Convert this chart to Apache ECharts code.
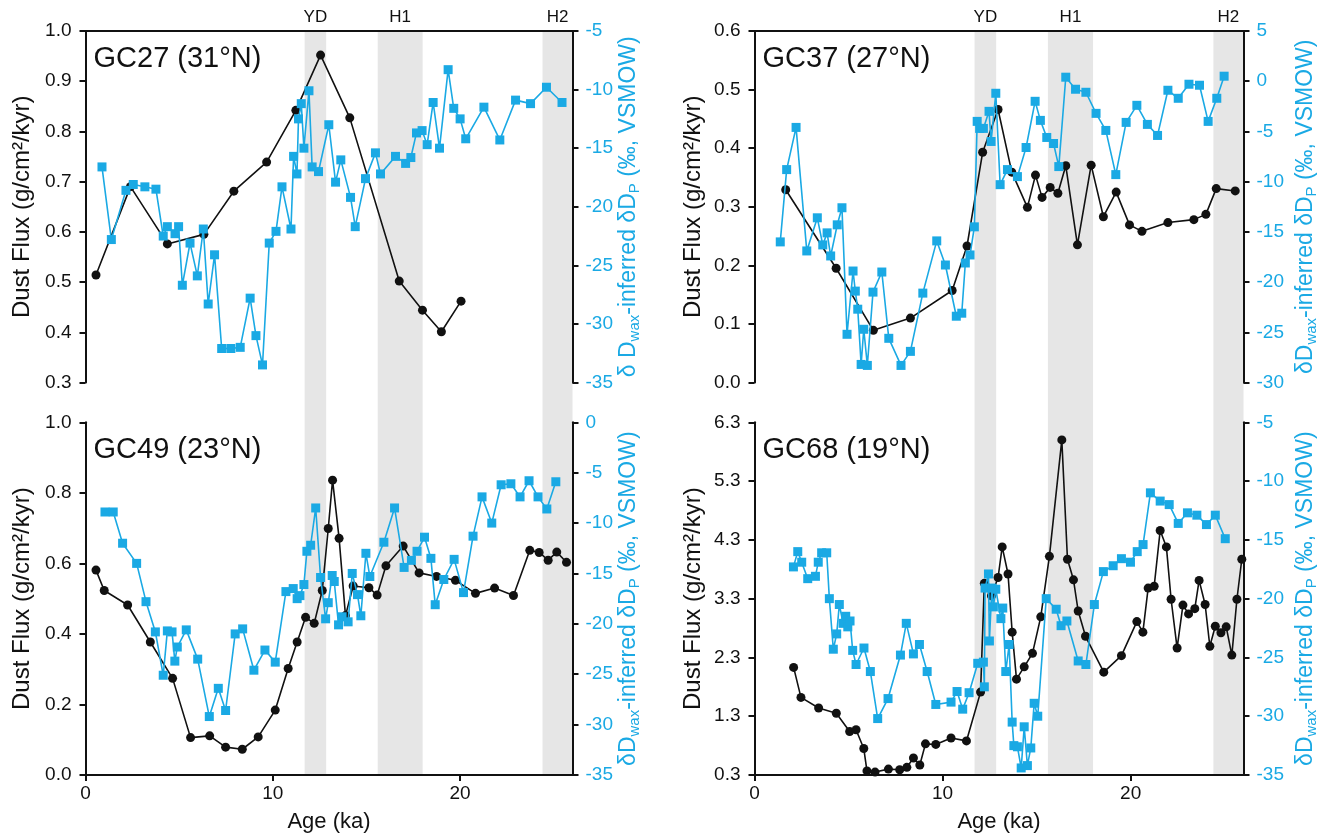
<!DOCTYPE html>
<html>
<head>
<meta charset="utf-8">
<script src="https://cdn.jsdelivr.net/npm/echarts@6/dist/echarts.min.js"></script>
<style>
  html, body { margin: 0; padding: 0; background: #fff; }
  #chart { width: 1336px; height: 838px; }
</style>
</head>
<body>
<div id="chart"></div>
<script>
// Age axis ticks and climate event intervals (ka)
const ageTicks = [0, 10, 20];
const eventNames = ['YD', 'H1', 'H2'];
const eventStart = [11.7, 15.6, 24.4];
const eventEnd = [12.85, 18.0, 26];

// GC27 (31°N)
const gc27FluxAge = [0.56, 2.4, 4.37, 6.32, 7.92, 9.67, 11.23, 12.55, 14.11, 16.75, 17.99, 19.0, 20.05];
const gc27Flux = [0.514, 0.69, 0.576, 0.595, 0.681, 0.739, 0.842, 0.952, 0.827, 0.502, 0.444, 0.401, 0.462];
const gc27DdAge = [0.88, 1.38, 2.16, 2.55, 3.17, 3.76, 4.15, 4.37, 4.78, 4.97, 5.17, 5.58, 5.97, 6.29, 6.55, 6.89,
  7.27, 7.76, 8.26, 8.79, 9.10, 9.45, 9.81, 10.17, 10.49, 10.97, 11.11, 11.29, 11.37, 11.52, 11.66, 11.93, 12.10,
  12.44, 12.99, 13.35, 13.63, 14.15, 14.40, 14.95, 15.48, 15.75, 16.55, 17.09, 17.37, 17.67, 17.97, 18.24, 18.56,
  18.90, 19.36, 19.66, 20.00, 20.30, 21.27, 22.12, 22.96, 23.76, 24.61, 25.44];
const gc27Dd = [-16.6, -22.8, -18.6, -18.1, -18.3, -18.5, -22.5, -21.7, -22.3, -21.7, -26.7, -23.1, -25.9, -21.9, -28.3, -24.1,
  -32.1, -32.1, -32.0, -27.8, -31.0, -33.5, -23.1, -22.1, -18.3, -21.9, -15.7, -17.2, -12.5, -11.2, -15.0, -10.1, -16.6,
  -17.0, -13.0, -17.9, -16.0, -19.2, -21.7, -17.6, -15.4, -17.2, -15.7, -16.3, -15.8, -13.7, -13.5, -14.7, -11.1,
  -15.0, -8.3, -11.6, -12.5, -14.2, -11.5, -14.3, -10.9, -11.2, -9.8, -11.1];

// GC37 (27°N)
const gc37FluxAge = [1.66, 4.34, 6.32, 8.29, 10.51, 11.30, 12.13, 12.95, 13.68, 14.51, 14.94, 15.29, 15.72, 16.13, 16.55,
  17.17, 17.90, 18.55, 19.23, 19.94, 20.60, 21.98, 23.36, 24.00, 24.55, 25.56];
const gc37Flux = [0.329, 0.195, 0.089, 0.110, 0.157, 0.233, 0.393, 0.466, 0.359, 0.299, 0.354, 0.316, 0.333, 0.323, 0.370,
  0.235, 0.371, 0.283, 0.325, 0.269, 0.258, 0.273, 0.278, 0.287, 0.331, 0.327];
const gc37DdAge = [1.37, 1.71, 2.21, 2.78, 3.34, 3.63, 3.86, 4.05, 4.40, 4.65, 4.92, 5.24, 5.36, 5.49, 5.67, 5.81, 6.00,
  6.30, 6.77, 7.14, 7.79, 8.29, 8.95, 9.69, 10.15, 10.73, 11.02, 11.21, 11.46, 11.69, 11.84, 11.97, 12.17, 12.47, 12.58,
  12.83, 13.06, 13.45, 13.98, 14.44, 14.92, 15.20, 15.54, 15.90, 16.18, 16.55, 17.07, 17.62, 18.16, 18.68, 19.21, 19.76,
  20.33, 20.89, 21.43, 21.98, 22.53, 23.10, 23.66, 24.12, 24.58, 24.97];
const gc37Dd = [-16.0, -8.8, -4.6, -16.9, -13.6, -16.3, -15.1, -17.4, -14.3, -12.6, -25.2, -18.9, -20.9, -22.7, -28.2, -24.7, -28.3,
  -21.0, -19.0, -25.6, -28.3, -26.9, -21.1, -15.9, -18.3, -23.4, -23.1, -18.1, -17.3, -14.5, -4.0, -4.7, -4.7, -3.0, -6.0,
  -1.2, -10.3, -8.8, -9.5, -6.6, -2.0, -3.9, -5.6, -6.2, -8.5, 0.4, -0.8, -1.1, -3.2, -4.9, -9.3, -4.1,
  -2.4, -4.3, -5.4, -0.9, -1.7, -0.3, -0.4, -4.0, -1.7, 0.5];

// GC49 (23°N)
const gc49FluxAge = [0.56, 1.00, 2.25, 3.46, 4.65, 5.61, 6.63, 7.48, 8.37, 9.22, 10.13, 10.82, 11.30, 11.75, 12.21, 12.64,
  12.96, 13.19, 13.54, 13.88, 14.29, 15.13, 15.57, 16.04, 16.96, 17.81, 18.74, 19.75, 20.82, 21.84, 22.85, 23.72, 24.22,
  24.70, 25.16, 25.68];
const gc49Flux = [0.581, 0.523, 0.482, 0.377, 0.274, 0.106, 0.111, 0.079, 0.073, 0.108, 0.184, 0.302, 0.377, 0.447, 0.430, 0.523,
  0.699, 0.836, 0.671, 0.452, 0.536, 0.531, 0.510, 0.593, 0.649, 0.573, 0.563, 0.552, 0.515, 0.530, 0.509, 0.637, 0.631,
  0.609, 0.632, 0.603];
const gc49DdAge = [1.04, 1.48, 1.98, 2.73, 3.23, 3.73, 4.15, 4.37, 4.62, 4.77, 4.90, 5.38, 5.99, 6.61, 7.09, 7.48, 7.99, 8.39,
  8.99, 9.58, 10.13, 10.70, 11.09, 11.30, 11.45, 11.66, 11.82, 12.02, 12.29, 12.55, 12.82, 12.96, 13.17, 13.28, 13.51,
  13.70, 14.02, 14.24, 14.52, 14.70, 14.97, 15.18, 15.93, 16.50, 17.01, 17.40, 17.70, 18.10, 18.44, 18.67, 19.13, 19.68,
  20.18, 20.69, 21.17, 21.69, 22.19, 22.71, 23.20, 23.68, 24.16, 24.63, 25.11];
const gc49Dd = [-8.9, -8.9, -12.0, -14.0, -17.8, -20.8, -25.1, -20.7, -20.8, -23.7, -22.3, -20.6, -23.5, -29.2, -26.4, -28.6, -21.0, -20.5,
  -24.6, -22.6, -23.8, -16.8, -16.5, -17.5, -17.2, -16.1, -12.8, -12.2, -8.5, -15.4, -19.5, -17.9, -15.2, -15.8, -20.1,
  -19.3, -19.8, -15.0, -17.1, -19.2, -13.0, -15.3, -11.9, -8.5, -14.4, -13.7, -12.8, -11.4, -13.5, -18.1, -15.6, -13.6,
  -16.9, -11.3, -7.4, -10.0, -6.2, -6.1, -7.4, -5.8, -7.4, -8.6, -5.9];

// GC68 (19°N)
const gc68FluxAge = [2.08, 2.47, 3.41, 4.35, 5.06, 5.40, 5.81, 5.98, 6.41, 7.12, 7.72, 8.10, 8.45, 8.79, 9.09, 9.64, 10.45,
  11.27, 12.02, 12.22, 12.60, 12.95, 13.17, 13.48, 13.70, 13.93, 14.34, 14.78, 15.22, 15.68, 16.34, 16.64, 16.96, 17.21,
  17.60, 18.57, 19.51, 20.33, 20.65, 20.93, 21.25, 21.57, 21.90, 22.15, 22.47, 22.78, 23.08, 23.41, 23.64, 23.96, 24.21,
  24.50, 24.80, 25.08, 25.38, 25.65, 25.91];
const gc68Flux = [2.13, 1.62, 1.44, 1.35, 1.04, 1.07, 0.75, 0.37, 0.35, 0.40, 0.39, 0.43, 0.59, 0.47, 0.83, 0.82, 0.93,
  0.88, 1.71, 3.56, 3.35, 3.66, 4.18, 3.72, 2.73, 1.93, 2.14, 2.37, 2.99, 4.02, 6.00, 3.97, 3.62, 3.09,
  2.66, 2.05, 2.33, 2.91, 2.73, 3.48, 3.51, 4.46, 4.18, 3.29, 2.46, 3.19, 3.04, 3.13, 3.61, 3.20, 2.49,
  2.83, 2.72, 2.82, 2.34, 3.29, 3.97];
const gc68DdAge = [2.07, 2.30, 2.51, 2.83, 3.24, 3.39, 3.57, 3.84, 3.98, 4.19, 4.37, 4.51, 4.71, 4.85, 4.96, 5.08, 5.22, 5.40,
  5.82, 6.16, 6.55, 7.10, 7.76, 8.07, 8.45, 8.77, 9.18, 9.64, 10.45, 10.77, 11.07, 11.41, 11.87, 12.17, 12.22, 12.26,
  12.44, 12.49, 12.62, 12.70, 12.83, 13.10, 13.20, 13.36, 13.54, 13.70, 13.79, 13.98, 14.18, 14.34, 14.51, 14.69, 14.87,
  15.06, 15.51, 16.04, 16.30, 16.61, 17.21, 17.62, 18.07, 18.55, 19.07, 19.51, 19.99, 20.35, 20.66, 21.05, 21.57, 22.05,
  22.53, 23.02, 23.52, 24.03, 24.50, 25.03];
const gc68Dd = [-17.3, -16.0, -16.9, -18.3, -18.1, -16.9, -16.1, -16.1, -20.0, -24.3, -23.0, -20.5, -22.1, -21.5, -22.4, -21.9, -24.4, -25.6,
  -24.2, -26.2, -30.2, -28.5, -24.8, -22.1, -24.7, -23.9, -26.2, -29.0, -28.8, -27.9, -29.4, -28.0, -25.5, -25.4, -27.5, -19.1,
  -17.9, -23.6, -19.1, -20.7, -19.2, -21.7, -20.8, -26.2, -23.9, -30.5, -32.5, -32.6, -34.4, -30.9, -34.2, -32.7, -28.9,
  -30.0, -20.0, -20.9, -22.3, -21.9, -25.3, -25.6, -20.5, -17.7, -17.2, -16.6, -16.9, -16.0, -15.4, -11.0, -11.7, -12.0,
  -13.6, -12.7, -12.9, -13.7, -12.9, -14.9];

const BLUE = '#1aa9e4';
const INK = '#111';
const FONT = '"Liberation Sans", Arial, Helvetica, sans-serif';

const fluxName = 'Dust Flux (g/cm²/kyr)';
const ddRich = {
  n: { fontSize: 23, color: BLUE, fontFamily: FONT, lineHeight: 27 },
  s: { fontSize: 15, color: BLUE, fontFamily: FONT, lineHeight: 12, verticalAlign: 'bottom' }
};
const ddNameSpaced = '{n|δ D}{s|wax}{n|-inferred δD}{s|P}{n| (‰, VSMOW)}';
const ddName = '{n|δD}{s|wax}{n|-inferred δD}{s|P}{n| (‰, VSMOW)}';

const panels = [
  { title: 'GC27 (31°N)', box: { left: 85.5, top: 31, width: 487, height: 351.5 }, top: true,
    flux: [gc27FluxAge, gc27Flux], dd: [gc27DdAge, gc27Dd],
    fluxAxis: { min: 0.3, max: 1.0, interval: 0.1 }, ddAxis: { min: -35, max: -5, interval: 5 },
    ddLabel: ddNameSpaced, fluxGap: 51, ddGap: 40 },
  { title: 'GC37 (27°N)', box: { left: 754.5, top: 31, width: 489, height: 351.5 }, top: true,
    flux: [gc37FluxAge, gc37Flux], dd: [gc37DdAge, gc37Dd],
    fluxAxis: { min: 0.0, max: 0.6, interval: 0.1 }, ddAxis: { min: -30, max: 5, interval: 5 },
    ddLabel: ddName, fluxGap: 49, ddGap: 49 },
  { title: 'GC49 (23°N)', box: { left: 85.5, top: 422.3, width: 487, height: 352.7 }, top: false,
    flux: [gc49FluxAge, gc49Flux], dd: [gc49DdAge, gc49Dd],
    fluxAxis: { min: 0.0, max: 1.0, interval: 0.2 }, ddAxis: { min: -35, max: 0, interval: 5 },
    ddLabel: ddName, fluxGap: 51, ddGap: 40 },
  { title: 'GC68 (19°N)', box: { left: 754.5, top: 422.3, width: 489, height: 352.7 }, top: false,
    flux: [gc68FluxAge, gc68Flux], dd: [gc68DdAge, gc68Dd],
    fluxAxis: { min: 0.3, max: 6.3, interval: 1 }, ddAxis: { min: -35, max: -5, interval: 5 },
    ddLabel: ddName, fluxGap: 49, ddGap: 49 }
];

const pairs = (xs, ys) => xs.map((x, i) => [x, ys[i]]);
const axisLine = { show: true, onZero: false, lineStyle: { color: INK, width: 2 } };
const tick = { show: true, inside: false, length: 6, lineStyle: { color: INK, width: 2 } };

const grid = [], xAxis = [], yAxis = [], series = [], title = [];

panels.forEach((p, i) => {
  grid.push(Object.assign({ containLabel: false }, p.box));
  xAxis.push(p.top ? {
    type: 'value', gridIndex: i, min: 0, max: 26, position: 'top',
    axisLine: axisLine, axisTick: { show: false }, axisLabel: { show: false }, splitLine: { show: false }, z: 3
  } : {
    type: 'value', gridIndex: i, min: 0, max: 26, position: 'bottom',
    axisLine: axisLine,
    axisTick: Object.assign({ customValues: ageTicks }, tick),
    axisLabel: { customValues: ageTicks, fontSize: 19, color: INK, fontFamily: FONT, margin: 9 },
    splitLine: { show: false },
    name: 'Age (ka)', nameLocation: 'middle', nameGap: 36,
    nameTextStyle: { fontSize: 22, color: INK, fontFamily: FONT }, z: 3
  });
  yAxis.push({
    type: 'value', gridIndex: i, position: 'left',
    min: p.fluxAxis.min, max: p.fluxAxis.max, interval: p.fluxAxis.interval,
    axisLine: axisLine, axisTick: tick, splitLine: { show: false },
    axisLabel: { fontSize: 19, color: INK, fontFamily: FONT, margin: 14, formatter: v => v.toFixed(1) },
    name: fluxName, nameLocation: 'middle', nameGap: p.fluxGap, nameRotate: 90,
    nameTextStyle: { fontSize: 24, color: INK, fontFamily: FONT }, z: 3
  });
  yAxis.push({
    type: 'value', gridIndex: i, position: 'right',
    min: p.ddAxis.min, max: p.ddAxis.max, interval: p.ddAxis.interval,
    axisLine: axisLine, axisTick: tick, splitLine: { show: false },
    axisLabel: { fontSize: 19, color: BLUE, fontFamily: FONT, margin: 13 },
    name: p.ddLabel, nameLocation: 'middle', nameGap: p.ddGap, nameRotate: 90,
    nameTextStyle: { fontSize: 23, color: BLUE, fontFamily: FONT, rich: ddRich }, z: 3
  });
  series.push({
    type: 'line', xAxisIndex: i, yAxisIndex: 2 * i, data: pairs(p.flux[0], p.flux[1]),
    symbol: 'circle', symbolSize: 9, showSymbol: true, z: 4,
    lineStyle: { color: INK, width: 1.6 }, itemStyle: { color: INK }
  });
  series.push({
    type: 'line', xAxisIndex: i, yAxisIndex: 2 * i + 1, data: pairs(p.dd[0], p.dd[1]),
    symbol: 'rect', symbolSize: 9, showSymbol: true, z: 5,
    lineStyle: { color: BLUE, width: 1.6 }, itemStyle: { color: BLUE }
  });
  title.push({
    text: p.title, left: p.box.left + 3, top: p.box.top + 8,
    textStyle: { fontSize: 29, fontWeight: 'normal', color: INK, fontFamily: FONT }
  });
});

// Shaded event bands running through both rows of each column
const bandBoxes = [
  { left: 85.5, top: 31, width: 487, height: 744 },
  { left: 754.5, top: 31, width: 489, height: 744 }
];
const events = eventNames.map((n, k) => [{ name: n, xAxis: eventStart[k] }, { xAxis: eventEnd[k] }]);
bandBoxes.forEach((b, k) => {
  const gi = grid.length;
  grid.push(b);
  xAxis.push({ type: 'value', gridIndex: gi, min: 0, max: 26, show: false });
  yAxis.push({ type: 'value', gridIndex: gi, min: 0, max: 1, show: false });
  series.push({
    type: 'line', xAxisIndex: xAxis.length - 1, yAxisIndex: yAxis.length - 1, data: [], z: 0,
    markArea: {
      silent: true,
      itemStyle: { color: '#e6e6e6', borderWidth: 0 },
      label: { show: true, position: 'top', distance: 5, color: INK, fontSize: 17, fontFamily: FONT },
      data: events
    }
  });
});

const chart = echarts.init(document.getElementById('chart'), null, { renderer: 'canvas' });
chart.setOption({
  animation: false,
  backgroundColor: '#fff',
  textStyle: { fontFamily: FONT },
  title: title,
  grid: grid,
  xAxis: xAxis,
  yAxis: yAxis,
  series: series
});
</script>
</body>
</html>
